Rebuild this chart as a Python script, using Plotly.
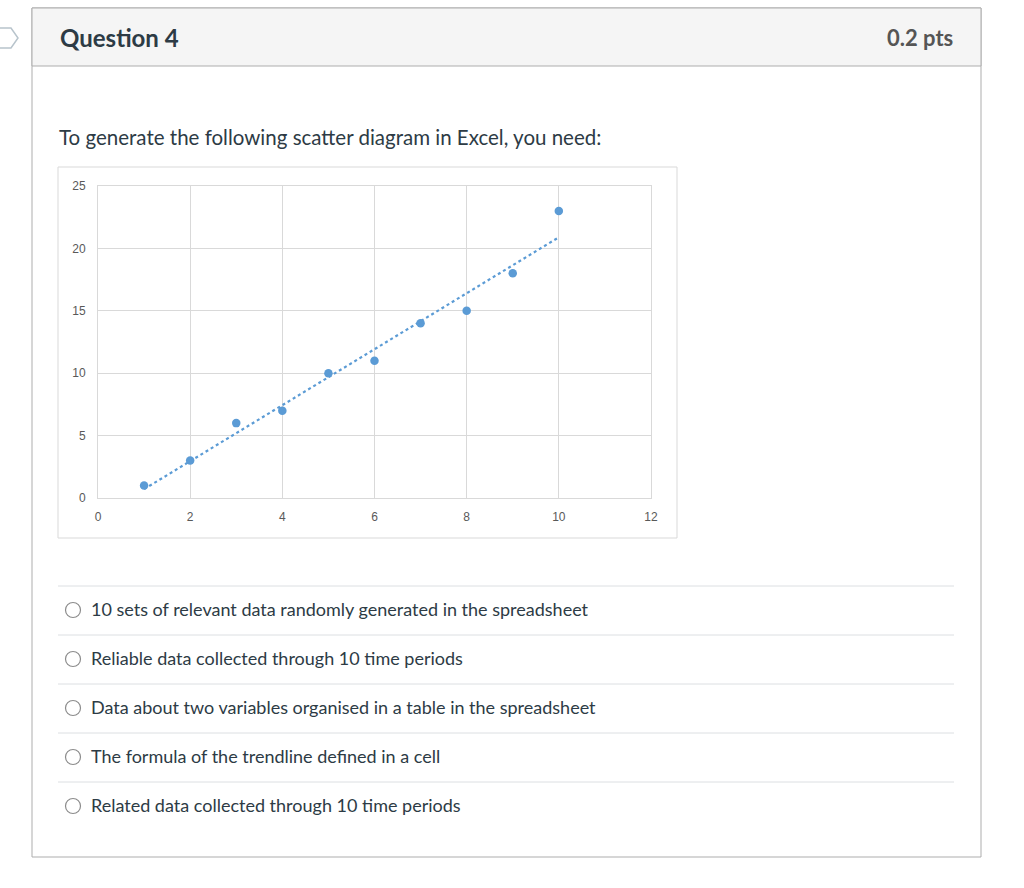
import numpy as np
import plotly.graph_objects as go

# ---- data ----
x_vals = [1, 2, 3, 4, 5, 6, 7, 8, 9, 10]
y_vals = [1, 3, 6, 7, 10, 11, 14, 15, 18, 23]
x_ticks = [0, 2, 4, 6, 8, 10, 12]
y_ticks = [0, 5, 10, 15, 20, 25]
title_text = "Question 4"
points_text = "0.2 pts"
question_text = "To generate the following scatter diagram in Excel, you need:"
options = [
    "10 sets of relevant data randomly generated in the spreadsheet",
    "Reliable data collected through 10 time periods",
    "Data about two variables organised in a table in the spreadsheet",
    "The formula of the trendline defined in a cell",
    "Related data collected through 10 time periods",
]

W, H = 1024, 888


def px(x):
    return x / W


def py(y):
    return 1 - y / H


# linear trendline (least squares) computed from the data
slope, intercept = np.polyfit(x_vals, y_vals, 1)
trend_x = [x_vals[0], x_vals[-1]]
trend_y = [slope * v + intercept for v in trend_x]

BLUE = "#5b9bd5"
TEXT = "#2d3b45"

fig = go.Figure()
fig.add_trace(go.Scatter(
    x=trend_x, y=trend_y, mode="lines",
    line=dict(color=BLUE, width=2.2, dash="dot"),
    hoverinfo="skip", showlegend=False,
))
fig.add_trace(go.Scatter(
    x=x_vals, y=y_vals, mode="markers",
    marker=dict(color=BLUE, size=8.5),
    showlegend=False,
))

axis_common = dict(
    showgrid=True, gridcolor="#d9d9d9", gridwidth=1,
    zeroline=False, showline=True, linecolor="#d9d9d9", linewidth=1, mirror=True,
    ticks="", tickfont=dict(family="Liberation Sans, Arial", size=12, color="#595959"),
    fixedrange=True, automargin=False,
)
fig.update_xaxes(
    range=[0, 12], tickvals=x_ticks, domain=[px(98), px(651)],
    ticklabelstandoff=8, **axis_common,
)
fig.update_yaxes(
    range=[0, 25], tickvals=y_ticks, domain=[py(498), py(186)],
    ticklabelstandoff=9, **axis_common,
)

BORDER = "#adadad"
shapes = []
# question box outer border
shapes.append(dict(type="rect", xref="paper", yref="paper",
                   x0=px(32), x1=px(981), y0=py(857), y1=py(8),
                   line=dict(color=BORDER, width=1), fillcolor="white", layer="below"))
# header
shapes.append(dict(type="rect", xref="paper", yref="paper",
                   x0=px(32), x1=px(981), y0=py(66), y1=py(8),
                   line=dict(color=BORDER, width=1), fillcolor="#f5f5f5", layer="below"))
# left arrow marker
path = "M {a},{b} L {c},{b} L {d},{e} L {c},{f} L {a},{f} Z".format(
    a=px(-2), b=py(28), c=px(11), d=px(18), e=py(38), f=py(48))
shapes.append(dict(type="path", xref="paper", yref="paper", path=path,
                   line=dict(color="#b8c4cc", width=1.5), fillcolor="rgba(0,0,0,0)"))
# chart frame
shapes.append(dict(type="rect", xref="paper", yref="paper",
                   x0=px(58), x1=px(677), y0=py(538), y1=py(167),
                   line=dict(color="#d9d9d9", width=1), fillcolor="rgba(0,0,0,0)", layer="below"))
# option separators
for yy in [586, 635, 684, 733, 782]:
    shapes.append(dict(type="line", xref="paper", yref="paper",
                       x0=px(58), x1=px(954), y0=py(yy), y1=py(yy),
                       line=dict(color="#dcdfe2", width=1)))
# radio circles
r = 7.5
for i in range(len(options)):
    cy = 610 + 49 * i
    shapes.append(dict(type="circle", xref="paper", yref="paper",
                       x0=px(73 - r), x1=px(73 + r), y0=py(cy + r), y1=py(cy - r),
                       line=dict(color="#8c8c8c", width=1.2), fillcolor="white"))

annotations = []
annotations.append(dict(text="<b>" + title_text + "</b>", x=px(58), y=py(37.5), xref="paper", yref="paper",
                        xanchor="left", yanchor="middle", showarrow=False,
                        font=dict(family="Lato", size=24, color=TEXT)))
annotations.append(dict(text="<b>" + points_text + "</b>", x=px(955), y=py(37.5), xref="paper", yref="paper",
                        xanchor="right", yanchor="middle", showarrow=False,
                        font=dict(family="Lato", size=22, color="#555555")))
annotations.append(dict(text=question_text, x=px(57), y=py(136.5), xref="paper", yref="paper",
                        xanchor="left", yanchor="middle", showarrow=False,
                        font=dict(family="Lato", size=20.5, color=TEXT)))
for i, opt in enumerate(options):
    cy = 609 + 49 * i
    annotations.append(dict(text=opt, x=px(89), y=py(cy), xref="paper", yref="paper",
                            xanchor="left", yanchor="middle", showarrow=False,
                            font=dict(family="Lato", size=18, color=TEXT)))

fig.update_layout(
    width=W, height=H, autosize=False,
    margin=dict(l=0, r=0, t=0, b=0, pad=0, autoexpand=False),
    paper_bgcolor="white", plot_bgcolor="white",
    shapes=shapes, annotations=annotations,
    showlegend=False,
)

fig.write_html(
    "out.html",
    config={"displayModeBar": False},
    post_script="document.body.style.margin='0';document.body.style.overflow='hidden';",
)
